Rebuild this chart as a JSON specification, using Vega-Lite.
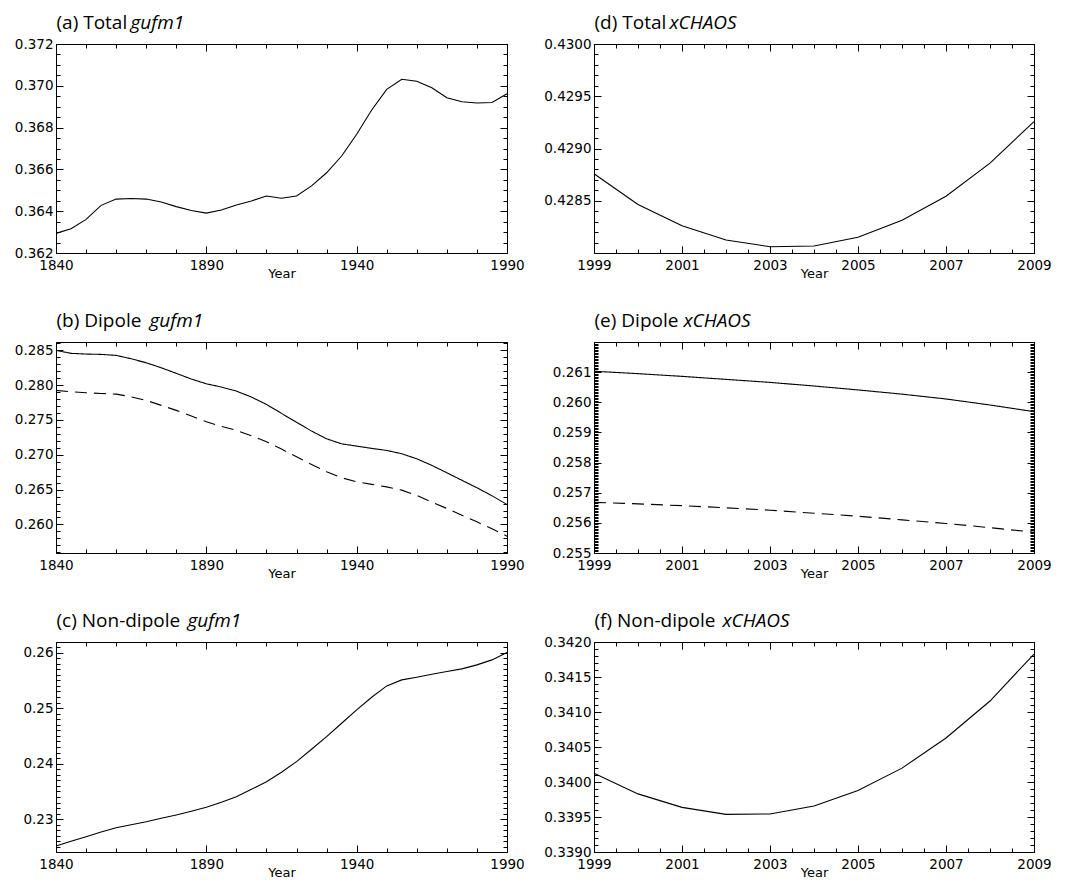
{
  "$schema": "https://vega.github.io/schema/vega-lite/v6.json",
  "background": "white",
  "padding": {"left": 13, "top": 12, "right": 5, "bottom": 5},
  "config": {
    "view": {"stroke": "black", "strokeWidth": 1},
    "axis": {
      "domain": false, "ticks": true, "tickColor": "#000000", "tickWidth": 1,
      "labelColor": "black", "labelFont": "DejaVu Sans", "labelFontSize": 13.5,
      "titleColor": "black", "titleFontWeight": "normal", "grid": false,
      "labelOverlap": false, "labelFlush": false
    },
    "line": {"color": "black", "strokeWidth": 1.1}
  },
  "datasets": {
    "a": [
      {"year": 1840, "value": 0.36294}, {"year": 1845, "value": 0.36316}, {"year": 1850, "value": 0.36361},
      {"year": 1855, "value": 0.36428}, {"year": 1860, "value": 0.36458}, {"year": 1865, "value": 0.36461},
      {"year": 1870, "value": 0.36458}, {"year": 1875, "value": 0.36444}, {"year": 1880, "value": 0.36422},
      {"year": 1885, "value": 0.36403}, {"year": 1890, "value": 0.36391}, {"year": 1895, "value": 0.36406},
      {"year": 1900, "value": 0.3643}, {"year": 1905, "value": 0.36449}, {"year": 1910, "value": 0.36473},
      {"year": 1915, "value": 0.36462}, {"year": 1920, "value": 0.36473}, {"year": 1925, "value": 0.36521},
      {"year": 1930, "value": 0.36584}, {"year": 1935, "value": 0.36664}, {"year": 1940, "value": 0.36768},
      {"year": 1945, "value": 0.36884}, {"year": 1950, "value": 0.36983}, {"year": 1955, "value": 0.37031},
      {"year": 1960, "value": 0.37022}, {"year": 1965, "value": 0.36991}, {"year": 1970, "value": 0.36943},
      {"year": 1975, "value": 0.36924}, {"year": 1980, "value": 0.36918}, {"year": 1985, "value": 0.3692},
      {"year": 1990, "value": 0.36962}
    ],
    "b": [
      {"year": 1840, "value": 0.285, "series": "dipole"}, {"year": 1845, "value": 0.28457, "series": "dipole"},
      {"year": 1850, "value": 0.28447, "series": "dipole"}, {"year": 1855, "value": 0.28442, "series": "dipole"},
      {"year": 1860, "value": 0.28428, "series": "dipole"}, {"year": 1865, "value": 0.28379, "series": "dipole"},
      {"year": 1870, "value": 0.28322, "series": "dipole"}, {"year": 1875, "value": 0.2825, "series": "dipole"},
      {"year": 1880, "value": 0.2817, "series": "dipole"}, {"year": 1885, "value": 0.28088, "series": "dipole"},
      {"year": 1890, "value": 0.2802, "series": "dipole"}, {"year": 1895, "value": 0.27973, "series": "dipole"},
      {"year": 1900, "value": 0.27915, "series": "dipole"}, {"year": 1905, "value": 0.27829, "series": "dipole"},
      {"year": 1910, "value": 0.27724, "series": "dipole"}, {"year": 1915, "value": 0.27595, "series": "dipole"},
      {"year": 1920, "value": 0.27466, "series": "dipole"}, {"year": 1925, "value": 0.27341, "series": "dipole"},
      {"year": 1930, "value": 0.2723, "series": "dipole"}, {"year": 1935, "value": 0.27158, "series": "dipole"},
      {"year": 1940, "value": 0.27125, "series": "dipole"}, {"year": 1945, "value": 0.27092, "series": "dipole"},
      {"year": 1950, "value": 0.27063, "series": "dipole"}, {"year": 1955, "value": 0.27015, "series": "dipole"},
      {"year": 1960, "value": 0.26943, "series": "dipole"}, {"year": 1965, "value": 0.26848, "series": "dipole"},
      {"year": 1970, "value": 0.26742, "series": "dipole"}, {"year": 1975, "value": 0.26634, "series": "dipole"},
      {"year": 1980, "value": 0.26527, "series": "dipole"}, {"year": 1985, "value": 0.26412, "series": "dipole"},
      {"year": 1990, "value": 0.26287, "series": "dipole"},
      {"year": 1840, "value": 0.27925, "series": "axial dipole"}, {"year": 1845, "value": 0.27905, "series": "axial dipole"},
      {"year": 1850, "value": 0.27891, "series": "axial dipole"}, {"year": 1855, "value": 0.27881, "series": "axial dipole"},
      {"year": 1860, "value": 0.27872, "series": "axial dipole"}, {"year": 1865, "value": 0.27833, "series": "axial dipole"},
      {"year": 1870, "value": 0.27782, "series": "axial dipole"}, {"year": 1875, "value": 0.2771, "series": "axial dipole"},
      {"year": 1880, "value": 0.27638, "series": "axial dipole"}, {"year": 1885, "value": 0.27556, "series": "axial dipole"},
      {"year": 1890, "value": 0.27474, "series": "axial dipole"}, {"year": 1895, "value": 0.27408, "series": "axial dipole"},
      {"year": 1900, "value": 0.27351, "series": "axial dipole"}, {"year": 1905, "value": 0.27273, "series": "axial dipole"},
      {"year": 1910, "value": 0.27187, "series": "axial dipole"}, {"year": 1915, "value": 0.27082, "series": "axial dipole"},
      {"year": 1920, "value": 0.26971, "series": "axial dipole"}, {"year": 1925, "value": 0.26862, "series": "axial dipole"},
      {"year": 1930, "value": 0.26756, "series": "axial dipole"}, {"year": 1935, "value": 0.2667, "series": "axial dipole"},
      {"year": 1940, "value": 0.26612, "series": "axial dipole"}, {"year": 1945, "value": 0.26575, "series": "axial dipole"},
      {"year": 1950, "value": 0.2654, "series": "axial dipole"}, {"year": 1955, "value": 0.26493, "series": "axial dipole"},
      {"year": 1960, "value": 0.26417, "series": "axial dipole"}, {"year": 1965, "value": 0.2632, "series": "axial dipole"},
      {"year": 1970, "value": 0.2623, "series": "axial dipole"}, {"year": 1975, "value": 0.26133, "series": "axial dipole"},
      {"year": 1980, "value": 0.26037, "series": "axial dipole"}, {"year": 1985, "value": 0.25937, "series": "axial dipole"},
      {"year": 1990, "value": 0.25832, "series": "axial dipole"}
    ],
    "c": [
      {"year": 1840, "value": 0.22517}, {"year": 1845, "value": 0.22602}, {"year": 1850, "value": 0.22685},
      {"year": 1855, "value": 0.22769}, {"year": 1860, "value": 0.22847}, {"year": 1865, "value": 0.22901},
      {"year": 1870, "value": 0.22955}, {"year": 1875, "value": 0.23016}, {"year": 1880, "value": 0.23076},
      {"year": 1885, "value": 0.23142}, {"year": 1890, "value": 0.23214}, {"year": 1895, "value": 0.23304},
      {"year": 1900, "value": 0.23405}, {"year": 1905, "value": 0.23538}, {"year": 1910, "value": 0.23676},
      {"year": 1915, "value": 0.23845}, {"year": 1920, "value": 0.24036}, {"year": 1925, "value": 0.24259},
      {"year": 1930, "value": 0.24486}, {"year": 1935, "value": 0.24728}, {"year": 1940, "value": 0.24968},
      {"year": 1945, "value": 0.25196}, {"year": 1950, "value": 0.254}, {"year": 1955, "value": 0.25508},
      {"year": 1960, "value": 0.25557}, {"year": 1965, "value": 0.25611}, {"year": 1970, "value": 0.25658},
      {"year": 1975, "value": 0.25706}, {"year": 1980, "value": 0.25778}, {"year": 1985, "value": 0.25868},
      {"year": 1990, "value": 0.26}
    ],
    "d": [
      {"year": 1999, "value": 0.428759}, {"year": 2000, "value": 0.428464}, {"year": 2001, "value": 0.42826},
      {"year": 2002, "value": 0.428124}, {"year": 2003, "value": 0.42806}, {"year": 2004, "value": 0.428067},
      {"year": 2005, "value": 0.42815}, {"year": 2006, "value": 0.428314}, {"year": 2007, "value": 0.428543},
      {"year": 2008, "value": 0.42886}, {"year": 2009, "value": 0.429257}
    ],
    "e": [
      {"year": 1999, "value": 0.26103, "series": "dipole"}, {"year": 2000, "value": 0.26095, "series": "dipole"},
      {"year": 2001, "value": 0.26086, "series": "dipole"}, {"year": 2002, "value": 0.26076, "series": "dipole"},
      {"year": 2003, "value": 0.26066, "series": "dipole"}, {"year": 2004, "value": 0.26054, "series": "dipole"},
      {"year": 2005, "value": 0.26041, "series": "dipole"}, {"year": 2006, "value": 0.26027, "series": "dipole"},
      {"year": 2007, "value": 0.26011, "series": "dipole"}, {"year": 2008, "value": 0.25991, "series": "dipole"},
      {"year": 2009, "value": 0.25969, "series": "dipole"},
      {"year": 1999, "value": 0.25668, "series": "axial dipole"}, {"year": 2000, "value": 0.25663, "series": "axial dipole"},
      {"year": 2001, "value": 0.25657, "series": "axial dipole"}, {"year": 2002, "value": 0.2565, "series": "axial dipole"},
      {"year": 2003, "value": 0.25642, "series": "axial dipole"}, {"year": 2004, "value": 0.25632, "series": "axial dipole"},
      {"year": 2005, "value": 0.25622, "series": "axial dipole"}, {"year": 2006, "value": 0.2561, "series": "axial dipole"},
      {"year": 2007, "value": 0.25598, "series": "axial dipole"}, {"year": 2008, "value": 0.25584, "series": "axial dipole"},
      {"year": 2009, "value": 0.25569, "series": "axial dipole"}
    ],
    "f": [
      {"year": 1999, "value": 0.340126}, {"year": 2000, "value": 0.33983}, {"year": 2001, "value": 0.339638},
      {"year": 2002, "value": 0.339537}, {"year": 2003, "value": 0.339543}, {"year": 2004, "value": 0.339658},
      {"year": 2005, "value": 0.339878}, {"year": 2006, "value": 0.340198}, {"year": 2007, "value": 0.340629},
      {"year": 2008, "value": 0.341157}, {"year": 2009, "value": 0.341828}
    ]
  },
  "columns": 2,
  "spacing": {"row": 89, "column": 87},
  "bounds": "flush",
  "concat": [
    {
      "width": 451, "height": 209, "data": {"name": "a"},
      "layer": [
        {"mark": {"type": "line"},
         "encoding": {
           "x": {"field": "year", "type": "quantitative", "scale": {"domain": [1840, 1990], "nice": false, "zero": false},
             "axis": {"orient": "bottom", "values": [1840, 1890, 1940, 1990], "format": "d", "ticks": false, "labelPadding": 5,
               "title": "Year", "titleFont": "DejaVu Sans", "titleFontSize": 13, "titlePadding": -4}},
           "y": {"field": "value", "type": "quantitative", "scale": {"domain": [0.362, 0.372], "nice": false, "zero": false},
             "axis": {"orient": "left", "values": [0.362, 0.364, 0.366, 0.368, 0.37, 0.372], "format": ".3f", "ticks": false, "labelPadding": 3,
               "title": "(a) Total", "titleAngle": 0, "titleX": 0, "titleY": -16, "titleAlign": "left", "titleBaseline": "alphabetic", "titleFont": "Open Sans", "titleFontSize": 19}}
         }},
        {"mark": {"type": "line", "opacity": 0},
         "encoding": {
           "x": {"field": "year", "type": "quantitative",
             "axis": {"orient": "top", "values": [1840, 1890, 1940, 1990], "offset": -7, "tickSize": 7, "labels": false,
               "title": "gufm1", "titleFontStyle": "italic", "titleX": 74, "titleY": -23, "titleAlign": "left", "titleBaseline": "alphabetic", "titleFont": "Open Sans", "titleFontSize": 19}},
           "y": {"field": "value", "type": "quantitative",
             "axis": {"orient": "right", "values": [0.362, 0.364, 0.366, 0.368, 0.37, 0.372], "offset": -7, "tickSize": 7, "labels": false, "title": null}}
         }},
        {"mark": {"type": "line", "opacity": 0},
         "encoding": {
           "x": {"field": "year", "type": "quantitative", "axis": {"orient": "bottom", "values": [1840, 1890, 1940, 1990], "offset": -7, "tickSize": 7, "labels": false, "title": null}},
           "y": {"field": "value", "type": "quantitative", "axis": {"orient": "left", "values": [0.362, 0.364, 0.366, 0.368, 0.37, 0.372], "offset": -7, "tickSize": 7, "labels": false, "title": null}}
         }},
        {"mark": {"type": "line", "opacity": 0},
         "encoding": {
           "x": {"field": "year", "type": "quantitative", "axis": {"orient": "bottom", "tickCount": 15, "offset": -4, "tickSize": 4, "labels": false, "title": null}},
           "y": {"field": "value", "type": "quantitative", "axis": {"orient": "left", "tickCount": 20, "offset": -4, "tickSize": 4, "labels": false, "title": null}}
         }},
        {"mark": {"type": "line", "opacity": 0},
         "encoding": {
           "x": {"field": "year", "type": "quantitative", "axis": {"orient": "top", "tickCount": 15, "offset": -4, "tickSize": 4, "labels": false, "title": null}},
           "y": {"field": "value", "type": "quantitative", "axis": {"orient": "right", "tickCount": 20, "offset": -4, "tickSize": 4, "labels": false, "title": null}}
         }}
      ],
      "resolve": {"axis": {"x": "independent", "y": "independent"}}
    },
    {
      "width": 440, "height": 209, "data": {"name": "d"},
      "layer": [
        {"mark": {"type": "line"},
         "encoding": {
           "x": {"field": "year", "type": "quantitative", "scale": {"domain": [1999, 2009], "nice": false, "zero": false},
             "axis": {"orient": "bottom", "values": [1999, 2001, 2003, 2005, 2007, 2009], "format": "d", "ticks": false, "labelPadding": 5,
               "title": "Year", "titleFont": "DejaVu Sans", "titleFontSize": 13, "titlePadding": -4}},
           "y": {"field": "value", "type": "quantitative", "scale": {"domain": [0.428, 0.43], "nice": false, "zero": false},
             "axis": {"orient": "left", "values": [0.4285, 0.429, 0.4295, 0.43], "format": ".4f", "ticks": false, "labelPadding": 3,
               "title": "(d) Total", "titleAngle": 0, "titleX": 0, "titleY": -16, "titleAlign": "left", "titleBaseline": "alphabetic", "titleFont": "Open Sans", "titleFontSize": 19}}
         }},
        {"mark": {"type": "line", "opacity": 0},
         "encoding": {
           "x": {"field": "year", "type": "quantitative",
             "axis": {"orient": "top", "values": [1999, 2001, 2003, 2005, 2007, 2009], "offset": -7, "tickSize": 7, "labels": false,
               "title": "xCHAOS", "titleFontStyle": "italic", "titleX": 75, "titleY": -23, "titleAlign": "left", "titleBaseline": "alphabetic", "titleFont": "Open Sans", "titleFontSize": 19}},
           "y": {"field": "value", "type": "quantitative",
             "axis": {"orient": "right", "values": [0.4285, 0.429, 0.4295, 0.43], "offset": -7, "tickSize": 7, "labels": false, "title": null}}
         }},
        {"mark": {"type": "line", "opacity": 0},
         "encoding": {
           "x": {"field": "year", "type": "quantitative", "axis": {"orient": "bottom", "values": [1999, 2001, 2003, 2005, 2007, 2009], "offset": -7, "tickSize": 7, "labels": false, "title": null}},
           "y": {"field": "value", "type": "quantitative", "axis": {"orient": "left", "values": [0.4285, 0.429, 0.4295, 0.43], "offset": -7, "tickSize": 7, "labels": false, "title": null}}
         }},
        {"mark": {"type": "line", "opacity": 0},
         "encoding": {
           "x": {"field": "year", "type": "quantitative", "axis": {"orient": "bottom", "tickCount": 20, "offset": -4, "tickSize": 4, "labels": false, "title": null}},
           "y": {"field": "value", "type": "quantitative", "axis": {"orient": "left", "tickCount": 20, "offset": -4, "tickSize": 4, "labels": false, "title": null}}
         }},
        {"mark": {"type": "line", "opacity": 0},
         "encoding": {
           "x": {"field": "year", "type": "quantitative", "axis": {"orient": "top", "tickCount": 20, "offset": -4, "tickSize": 4, "labels": false, "title": null}},
           "y": {"field": "value", "type": "quantitative", "axis": {"orient": "right", "tickCount": 20, "offset": -4, "tickSize": 4, "labels": false, "title": null}}
         }}
      ],
      "resolve": {"axis": {"x": "independent", "y": "independent"}}
    },
    {
      "width": 451, "height": 211, "data": {"name": "b"},
      "layer": [
        {"mark": {"type": "line"},
         "encoding": {
           "x": {"field": "year", "type": "quantitative", "scale": {"domain": [1840, 1990], "nice": false, "zero": false},
             "axis": {"orient": "bottom", "values": [1840, 1890, 1940, 1990], "format": "d", "ticks": false, "labelPadding": 5,
               "title": "Year", "titleFont": "DejaVu Sans", "titleFontSize": 13, "titlePadding": -4}},
           "y": {"field": "value", "type": "quantitative", "scale": {"domain": [0.2559, 0.2862], "nice": false, "zero": false},
             "axis": {"orient": "left", "values": [0.26, 0.265, 0.27, 0.275, 0.28, 0.285], "format": ".3f", "ticks": false, "labelPadding": 3,
               "title": "(b) Dipole", "titleAngle": 0, "titleX": 0, "titleY": -16, "titleAlign": "left", "titleBaseline": "alphabetic", "titleFont": "Open Sans", "titleFontSize": 19}},
           "strokeDash": {"field": "series", "type": "nominal", "scale": {"domain": ["dipole", "axial dipole"], "range": [[1, 0], [12, 7]]}, "legend": null}
         }},
        {"mark": {"type": "line", "opacity": 0},
         "encoding": {
           "x": {"field": "year", "type": "quantitative",
             "axis": {"orient": "top", "values": [1840, 1890, 1940, 1990], "offset": -7, "tickSize": 7, "labels": false,
               "title": "gufm1", "titleFontStyle": "italic", "titleX": 93, "titleY": -23, "titleAlign": "left", "titleBaseline": "alphabetic", "titleFont": "Open Sans", "titleFontSize": 19}},
           "y": {"field": "value", "type": "quantitative",
             "axis": {"orient": "right", "values": [0.26, 0.265, 0.27, 0.275, 0.28, 0.285], "offset": -7, "tickSize": 7, "labels": false, "title": null}}
         }},
        {"mark": {"type": "line", "opacity": 0},
         "encoding": {
           "x": {"field": "year", "type": "quantitative", "axis": {"orient": "bottom", "values": [1840, 1890, 1940, 1990], "offset": -7, "tickSize": 7, "labels": false, "title": null}},
           "y": {"field": "value", "type": "quantitative", "axis": {"orient": "left", "values": [0.26, 0.265, 0.27, 0.275, 0.28, 0.285], "offset": -7, "tickSize": 7, "labels": false, "title": null}}
         }},
        {"mark": {"type": "line", "opacity": 0},
         "encoding": {
           "x": {"field": "year", "type": "quantitative", "axis": {"orient": "bottom", "tickCount": 15, "offset": -4, "tickSize": 4, "labels": false, "title": null}},
           "y": {"field": "value", "type": "quantitative", "axis": {"orient": "left", "tickCount": 30, "offset": -4, "tickSize": 4, "labels": false, "title": null}}
         }},
        {"mark": {"type": "line", "opacity": 0},
         "encoding": {
           "x": {"field": "year", "type": "quantitative", "axis": {"orient": "top", "tickCount": 15, "offset": -4, "tickSize": 4, "labels": false, "title": null}},
           "y": {"field": "value", "type": "quantitative", "axis": {"orient": "right", "tickCount": 30, "offset": -4, "tickSize": 4, "labels": false, "title": null}}
         }}
      ],
      "resolve": {"axis": {"x": "independent", "y": "independent"}}
    },
    {
      "width": 440, "height": 211, "data": {"name": "e"},
      "layer": [
        {"mark": {"type": "line"},
         "encoding": {
           "x": {"field": "year", "type": "quantitative", "scale": {"domain": [1999, 2009], "nice": false, "zero": false},
             "axis": {"orient": "bottom", "values": [1999, 2001, 2003, 2005, 2007, 2009], "format": "d", "ticks": false, "labelPadding": 5,
               "title": "Year", "titleFont": "DejaVu Sans", "titleFontSize": 13, "titlePadding": -4}},
           "y": {"field": "value", "type": "quantitative", "scale": {"domain": [0.255, 0.262], "nice": false, "zero": false},
             "axis": {"orient": "left", "values": [0.255, 0.256, 0.257, 0.258, 0.259, 0.26, 0.261], "format": ".3f", "ticks": false, "labelPadding": 3,
               "title": "(e) Dipole", "titleAngle": 0, "titleX": 0, "titleY": -16, "titleAlign": "left", "titleBaseline": "alphabetic", "titleFont": "Open Sans", "titleFontSize": 19}},
           "strokeDash": {"field": "series", "type": "nominal", "scale": {"domain": ["dipole", "axial dipole"], "range": [[1, 0], [12, 7]]}, "legend": null}
         }},
        {"mark": {"type": "line", "opacity": 0},
         "encoding": {
           "x": {"field": "year", "type": "quantitative",
             "axis": {"orient": "top", "values": [1999, 2001, 2003, 2005, 2007, 2009], "offset": -7, "tickSize": 7, "labels": false,
               "title": "xCHAOS", "titleFontStyle": "italic", "titleX": 89, "titleY": -23, "titleAlign": "left", "titleBaseline": "alphabetic", "titleFont": "Open Sans", "titleFontSize": 19}},
           "y": {"field": "value", "type": "quantitative",
             "axis": {"orient": "right", "values": [0.255, 0.256, 0.257, 0.258, 0.259, 0.26, 0.261], "offset": -7, "tickSize": 7, "labels": false, "title": null}}
         }},
        {"mark": {"type": "line", "opacity": 0},
         "encoding": {
           "x": {"field": "year", "type": "quantitative", "axis": {"orient": "bottom", "values": [1999, 2001, 2003, 2005, 2007, 2009], "offset": -7, "tickSize": 7, "labels": false, "title": null}},
           "y": {"field": "value", "type": "quantitative", "axis": {"orient": "left", "values": [0.255, 0.256, 0.257, 0.258, 0.259, 0.26, 0.261], "offset": -7, "tickSize": 7, "labels": false, "title": null}}
         }},
        {"mark": {"type": "line", "opacity": 0},
         "encoding": {
           "x": {"field": "year", "type": "quantitative", "axis": {"orient": "bottom", "tickCount": 20, "offset": -4, "tickSize": 4, "labels": false, "title": null}},
           "y": {"field": "value", "type": "quantitative", "axis": {"orient": "left", "tickCount": 140, "offset": -4, "tickSize": 4, "labels": false, "title": null}}
         }},
        {"mark": {"type": "line", "opacity": 0},
         "encoding": {
           "x": {"field": "year", "type": "quantitative", "axis": {"orient": "top", "tickCount": 20, "offset": -4, "tickSize": 4, "labels": false, "title": null}},
           "y": {"field": "value", "type": "quantitative", "axis": {"orient": "right", "tickCount": 140, "offset": -4, "tickSize": 4, "labels": false, "title": null}}
         }}
      ],
      "resolve": {"axis": {"x": "independent", "y": "independent"}}
    },
    {
      "width": 451, "height": 210, "data": {"name": "c"},
      "layer": [
        {"mark": {"type": "line"},
         "encoding": {
           "x": {"field": "year", "type": "quantitative", "scale": {"domain": [1840, 1990], "nice": false, "zero": false},
             "axis": {"orient": "bottom", "values": [1840, 1890, 1940, 1990], "format": "d", "ticks": false, "labelPadding": 5,
               "title": "Year", "titleFont": "DejaVu Sans", "titleFontSize": 13, "titlePadding": -4}},
           "y": {"field": "value", "type": "quantitative", "scale": {"domain": [0.2241, 0.2619], "nice": false, "zero": false},
             "axis": {"orient": "left", "values": [0.23, 0.24, 0.25, 0.26], "format": ".2f", "ticks": false, "labelPadding": 3,
               "title": "(c) Non-dipole", "titleAngle": 0, "titleX": 0, "titleY": -16, "titleAlign": "left", "titleBaseline": "alphabetic", "titleFont": "Open Sans", "titleFontSize": 19}}
         }},
        {"mark": {"type": "line", "opacity": 0},
         "encoding": {
           "x": {"field": "year", "type": "quantitative",
             "axis": {"orient": "top", "values": [1840, 1890, 1940, 1990], "offset": -7, "tickSize": 7, "labels": false,
               "title": "gufm1", "titleFontStyle": "italic", "titleX": 131, "titleY": -23, "titleAlign": "left", "titleBaseline": "alphabetic", "titleFont": "Open Sans", "titleFontSize": 19}},
           "y": {"field": "value", "type": "quantitative",
             "axis": {"orient": "right", "values": [0.23, 0.24, 0.25, 0.26], "offset": -7, "tickSize": 7, "labels": false, "title": null}}
         }},
        {"mark": {"type": "line", "opacity": 0},
         "encoding": {
           "x": {"field": "year", "type": "quantitative", "axis": {"orient": "bottom", "values": [1840, 1890, 1940, 1990], "offset": -7, "tickSize": 7, "labels": false, "title": null}},
           "y": {"field": "value", "type": "quantitative", "axis": {"orient": "left", "values": [0.23, 0.24, 0.25, 0.26], "offset": -7, "tickSize": 7, "labels": false, "title": null}}
         }},
        {"mark": {"type": "line", "opacity": 0},
         "encoding": {
           "x": {"field": "year", "type": "quantitative", "axis": {"orient": "bottom", "tickCount": 15, "offset": -4, "tickSize": 4, "labels": false, "title": null}},
           "y": {"field": "value", "type": "quantitative", "axis": {"orient": "left", "tickCount": 38, "offset": -4, "tickSize": 4, "labels": false, "title": null}}
         }},
        {"mark": {"type": "line", "opacity": 0},
         "encoding": {
           "x": {"field": "year", "type": "quantitative", "axis": {"orient": "top", "tickCount": 15, "offset": -4, "tickSize": 4, "labels": false, "title": null}},
           "y": {"field": "value", "type": "quantitative", "axis": {"orient": "right", "tickCount": 38, "offset": -4, "tickSize": 4, "labels": false, "title": null}}
         }}
      ],
      "resolve": {"axis": {"x": "independent", "y": "independent"}}
    },
    {
      "width": 440, "height": 210, "data": {"name": "f"},
      "layer": [
        {"mark": {"type": "line"},
         "encoding": {
           "x": {"field": "year", "type": "quantitative", "scale": {"domain": [1999, 2009], "nice": false, "zero": false},
             "axis": {"orient": "bottom", "values": [1999, 2001, 2003, 2005, 2007, 2009], "format": "d", "ticks": false, "labelPadding": 5,
               "title": "Year", "titleFont": "DejaVu Sans", "titleFontSize": 13, "titlePadding": -4}},
           "y": {"field": "value", "type": "quantitative", "scale": {"domain": [0.339, 0.342], "nice": false, "zero": false},
             "axis": {"orient": "left", "values": [0.339, 0.3395, 0.34, 0.3405, 0.341, 0.3415, 0.342], "format": ".4f", "ticks": false, "labelPadding": 3,
               "title": "(f) Non-dipole", "titleAngle": 0, "titleX": 0, "titleY": -16, "titleAlign": "left", "titleBaseline": "alphabetic", "titleFont": "Open Sans", "titleFontSize": 19}}
         }},
        {"mark": {"type": "line", "opacity": 0},
         "encoding": {
           "x": {"field": "year", "type": "quantitative",
             "axis": {"orient": "top", "values": [1999, 2001, 2003, 2005, 2007, 2009], "offset": -7, "tickSize": 7, "labels": false,
               "title": "xCHAOS", "titleFontStyle": "italic", "titleX": 128, "titleY": -23, "titleAlign": "left", "titleBaseline": "alphabetic", "titleFont": "Open Sans", "titleFontSize": 19}},
           "y": {"field": "value", "type": "quantitative",
             "axis": {"orient": "right", "values": [0.339, 0.3395, 0.34, 0.3405, 0.341, 0.3415, 0.342], "offset": -7, "tickSize": 7, "labels": false, "title": null}}
         }},
        {"mark": {"type": "line", "opacity": 0},
         "encoding": {
           "x": {"field": "year", "type": "quantitative", "axis": {"orient": "bottom", "values": [1999, 2001, 2003, 2005, 2007, 2009], "offset": -7, "tickSize": 7, "labels": false, "title": null}},
           "y": {"field": "value", "type": "quantitative", "axis": {"orient": "left", "values": [0.339, 0.3395, 0.34, 0.3405, 0.341, 0.3415, 0.342], "offset": -7, "tickSize": 7, "labels": false, "title": null}}
         }},
        {"mark": {"type": "line", "opacity": 0},
         "encoding": {
           "x": {"field": "year", "type": "quantitative", "axis": {"orient": "bottom", "tickCount": 20, "offset": -4, "tickSize": 4, "labels": false, "title": null}},
           "y": {"field": "value", "type": "quantitative", "axis": {"orient": "left", "tickCount": 30, "offset": -4, "tickSize": 4, "labels": false, "title": null}}
         }},
        {"mark": {"type": "line", "opacity": 0},
         "encoding": {
           "x": {"field": "year", "type": "quantitative", "axis": {"orient": "top", "tickCount": 20, "offset": -4, "tickSize": 4, "labels": false, "title": null}},
           "y": {"field": "value", "type": "quantitative", "axis": {"orient": "right", "tickCount": 30, "offset": -4, "tickSize": 4, "labels": false, "title": null}}
         }}
      ],
      "resolve": {"axis": {"x": "independent", "y": "independent"}}
    }
  ]
}
